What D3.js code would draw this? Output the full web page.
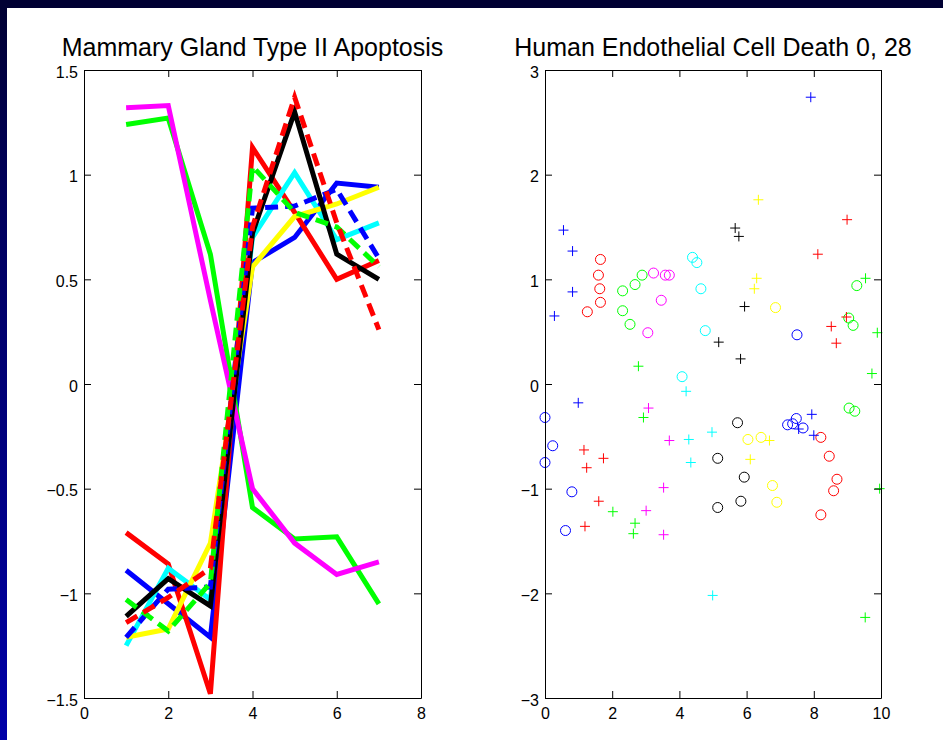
<!DOCTYPE html>
<html>
<head>
<meta charset="utf-8">
<script src="https://cdn.jsdelivr.net/npm/d3@7"></script>
<style>
  body { margin: 0; background: #000033; }
  text { font-family: "Liberation Sans", Arial, Helvetica, sans-serif; }
</style>
</head>
<body>
<div id="vis"></div>
<script>
// left panel: 10 profiles over 7 time points
let lineX = [1, 2, 3, 4, 5, 6, 7];
let blueSolid    = [-0.89, -1.05, -1.21, 0.58, 0.70, 0.96, 0.94];
let greenSolid   = [1.24, 1.27, 0.62, -0.59, -0.74, -0.73, -1.05];
let redSolid     = [-0.71, -0.86, -1.48, 1.13, 0.82, 0.50, 0.59];
let cyanSolid    = [-1.25, -0.88, -1.03, 0.70, 1.01, 0.69, 0.77];
let magentaSolid = [1.32, 1.33, 0.40, -0.50, -0.76, -0.91, -0.85];
let yellowSolid  = [-1.21, -1.17, -0.76, 0.56, 0.80, 0.86, 0.94];
let blackSolid   = [-1.11, -0.93, -1.06, 0.72, 1.30, 0.62, 0.50];
let blueDashed   = [-1.21, -0.98, -0.97, 0.84, 0.85, 0.93, 0.60];
let greenDashed  = [-1.03, -1.18, -0.95, 1.04, 0.82, 0.75, 0.56];
let redDashed    = [-1.14, -1.02, -0.88, 0.75, 1.37, 0.77, 0.26];

let leftXTicks = [0, 2, 4, 6, 8];
let leftYTicks = [-1.5, -1, -0.5, 0, 0.5, 1, 1.5];

// right panel: scatter points [x, y]
let blueCircles = [[0.0, -0.32], [0.23, -0.59], [0.0, -0.75], [0.80, -1.03], [0.61, -1.40],
  [7.22, -0.39], [7.37, -0.38], [7.48, -0.33], [7.68, -0.42], [7.50, 0.47]];
let bluePlus = [[7.91, 2.74], [0.55, 1.47], [0.82, 1.27], [0.82, 0.88], [0.28, 0.65],
  [0.99, -0.18], [7.94, -0.29], [7.55, -0.43], [8.00, -0.49]];
let redCircles = [[1.65, 1.19], [1.59, 1.04], [1.63, 0.91], [1.65, 0.78], [1.26, 0.69],
  [8.21, -0.51], [8.46, -0.69], [8.69, -0.91], [8.59, -1.02], [8.21, -1.25]];
let redPlus = [[8.99, 1.57], [8.12, 1.24], [8.52, 0.55], [8.97, 0.64], [8.67, 0.39],
  [1.16, -0.63], [1.24, -0.80], [1.74, -0.71], [1.60, -1.12], [1.19, -1.36]];
let greenCircles = [[2.31, 0.89], [2.68, 0.95], [2.89, 1.04], [2.31, 0.70], [2.53, 0.57],
  [9.28, 0.94], [9.04, 0.63], [9.17, 0.56], [9.05, -0.23], [9.22, -0.26]];
let greenPlus = [[9.54, 1.01], [9.89, 0.49], [9.73, 0.10], [2.78, 0.17], [2.93, -0.32],
  [2.02, -1.22], [2.68, -1.33], [2.63, -1.43], [9.96, -1.00], [9.53, -2.23]];
let magentaCircles = [[3.23, 1.06], [3.58, 1.04], [3.70, 1.04], [3.46, 0.80], [3.06, 0.49]];
let magentaPlus = [[3.08, -0.23], [3.70, -0.54], [3.53, -0.99], [3.01, -1.21], [3.53, -1.44]];
let cyanCircles = [[4.39, 1.21], [4.52, 1.16], [4.64, 0.91], [4.77, 0.51], [4.08, 0.07]];
let cyanPlus = [[4.20, -0.07], [4.28, -0.53], [4.34, -0.75], [4.97, -0.46], [4.99, -2.02]];
let blackCircles = [[5.73, -0.37], [5.14, -0.71], [5.93, -0.89], [5.14, -1.18], [5.83, -1.12]];
let blackPlus = [[5.66, 1.49], [5.77, 1.41], [5.94, 0.74], [5.17, 0.40], [5.82, 0.24]];
let yellowCircles = [[6.86, 0.73], [6.04, -0.53], [6.43, -0.51], [6.77, -0.97], [6.90, -1.13]];
let yellowPlus = [[6.35, 1.76], [6.30, 1.01], [6.23, 0.91], [6.68, -0.54], [6.11, -0.72]];

let rightXTicks = [0, 2, 4, 6, 8, 10];
let rightYTicks = [-3, -2, -1, 0, 1, 2, 3];

let width = 943, height = 740;

let svg = d3.select('#vis')
.append('svg')
.attr('width', width)
.attr('height', height)
.style('display', 'block');

// dark frame with blue strip on the left
let grad = svg.append('defs').append('linearGradient')
.attr('id', 'strip')
.attr('x1', 0).attr('y1', 0).attr('x2', 0).attr('y2', 1);
grad.append('stop').attr('offset', '0%').attr('stop-color', '#000033');
grad.append('stop').attr('offset', '25%').attr('stop-color', '#00005a');
grad.append('stop').attr('offset', '100%').attr('stop-color', '#0000a8');

svg.append('rect').attr('width', width).attr('height', height).attr('fill', '#000033');
svg.append('rect').attr('x', 0).attr('y', 8).attr('width', 7).attr('height', height - 8).attr('fill', 'url(#strip)');
svg.append('rect').attr('x', 7).attr('y', 8).attr('width', width - 7).attr('height', height - 8).attr('fill', 'white');

// draws a matlab style box with inward ticks on all sides
function drawBox(g, x, y, xTicks, yTicks, title) {
  let [x0, x1] = x.range();
  let [y0, y1] = y.range();
  let tk = 7;

  g.append('g')
  .attr('transform', `translate(0,${y0})`)
  .call(d3.axisBottom(x).tickValues(xTicks).tickSizeInner(-tk).tickSizeOuter(0).tickPadding(10).tickFormat(d3.format('')));
  g.append('g')
  .attr('transform', `translate(0,${y1})`)
  .call(d3.axisTop(x).tickValues(xTicks).tickSizeInner(-tk).tickSizeOuter(0).tickFormat(''));
  let yAx = g.append('g')
  .attr('transform', `translate(${x0},0)`)
  .call(d3.axisLeft(y).tickValues(yTicks).tickSizeInner(-tk).tickSizeOuter(0).tickPadding(6).tickFormat(d3.format('')));
  yAx.selectAll('.tick text').attr('dy', '0.45em');
  g.append('g')
  .attr('transform', `translate(${x1},0)`)
  .call(d3.axisRight(y).tickValues(yTicks).tickSizeInner(-tk).tickSizeOuter(0).tickFormat(''));

  g.selectAll('.tick text')
  .attr('fill', 'black')
  .style('font-size', '16px')
  .style('font-family', '"Liberation Sans", Arial, sans-serif');
  g.selectAll('.domain, .tick line').attr('stroke', 'black').attr('stroke-width', 1);

  g.append('text')
  .attr('x', (x0 + x1) / 2)
  .attr('y', 56)
  .attr('text-anchor', 'middle')
  .style('font-size', '25px')
  .text(title);
}

// left panel
let xL = d3.scaleLinear().domain([0, 8]).range([84, 421]);
let yL = d3.scaleLinear().domain([-1.5, 1.5]).range([698, 70]);

let left = svg.append('g');

let lines = [
  {v: blueSolid, c: '#0000ff', dash: null},
  {v: greenSolid, c: '#00ff00', dash: null},
  {v: redSolid, c: '#ff0000', dash: null},
  {v: cyanSolid, c: '#00ffff', dash: null},
  {v: magentaSolid, c: '#ff00ff', dash: null},
  {v: yellowSolid, c: '#ffff00', dash: null},
  {v: blackSolid, c: '#000000', dash: null},
  {v: blueDashed, c: '#0000ff', dash: '13,7'},
  {v: greenDashed, c: '#00ff00', dash: '13,7'},
  {v: redDashed, c: '#ff0000', dash: '13,7'}
];

let line = d3.line()
.x((d, i) => xL(lineX[i]))
.y(d => yL(d));

left.selectAll('path.series')
.data(lines)
.join('path')
.attr('class', 'series')
.attr('d', d => line(d.v))
.attr('fill', 'none')
.attr('stroke', d => d.c)
.attr('stroke-width', 5)
.attr('stroke-dasharray', d => d.dash);

drawBox(left, xL, yL, leftXTicks, leftYTicks, 'Mammary Gland Type II Apoptosis');

// right panel
let xR = d3.scaleLinear().domain([0, 10]).range([545, 881]);
let yR = d3.scaleLinear().domain([-3, 3]).range([698, 70]);

let right = svg.append('g');

let circleSets = [
  {p: blueCircles, c: '#0000ff'}, {p: redCircles, c: '#ff0000'},
  {p: greenCircles, c: '#00ff00'}, {p: magentaCircles, c: '#ff00ff'},
  {p: cyanCircles, c: '#00ffff'}, {p: blackCircles, c: '#000000'},
  {p: yellowCircles, c: '#ffff00'}
];
let plusSets = [
  {p: bluePlus, c: '#0000ff'}, {p: redPlus, c: '#ff0000'},
  {p: greenPlus, c: '#00ff00'}, {p: magentaPlus, c: '#ff00ff'},
  {p: cyanPlus, c: '#00ffff'}, {p: blackPlus, c: '#000000'},
  {p: yellowPlus, c: '#ffff00'}
];

circleSets.forEach(s => {
  right.append('g').selectAll('circle')
  .data(s.p)
  .join('circle')
  .attr('cx', d => xR(d[0]))
  .attr('cy', d => yR(d[1]))
  .attr('r', 5)
  .attr('fill', 'none')
  .attr('stroke', s.c)
  .attr('stroke-width', 1);
});

let arm = 5;
plusSets.forEach(s => {
  right.append('g').selectAll('path')
  .data(s.p)
  .join('path')
  .attr('d', d => {
    let cx = xR(d[0]), cy = yR(d[1]);
    return `M${cx - arm},${cy}H${cx + arm}M${cx},${cy - arm}V${cy + arm}`;
  })
  .attr('fill', 'none')
  .attr('stroke', s.c)
  .attr('stroke-width', 1);
});

drawBox(right, xR, yR, rightXTicks, rightYTicks, 'Human Endothelial Cell Death 0, 28');
</script>
</body>
</html>
